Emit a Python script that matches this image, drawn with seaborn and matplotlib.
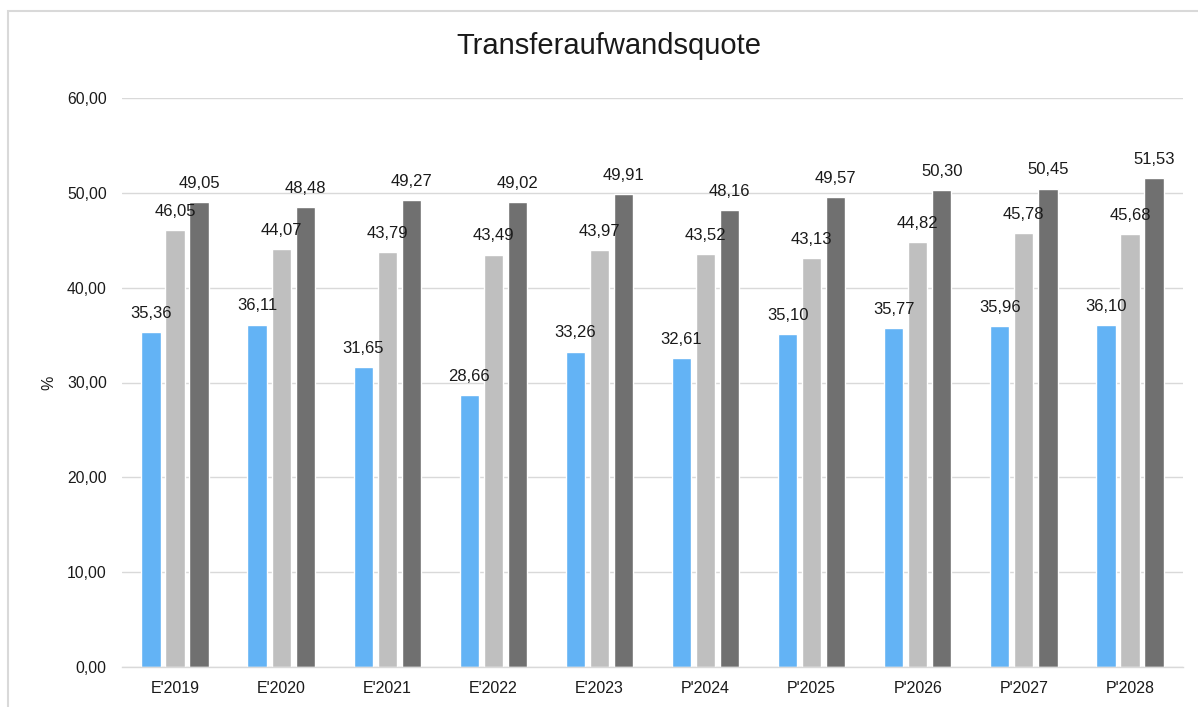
import pandas as pd
import matplotlib.pyplot as plt
import seaborn as sns
from matplotlib.patches import Rectangle
from matplotlib.ticker import FuncFormatter

# Daten
jahre = ["E'2019", "E'2020", "E'2021", "E'2022", "E'2023",
         "P'2024", "P'2025", "P'2026", "P'2027", "P'2028"]
reihe_1 = [35.36, 36.11, 31.65, 28.66, 33.26, 32.61, 35.10, 35.77, 35.96, 36.10]
reihe_2 = [46.05, 44.07, 43.79, 43.49, 43.97, 43.52, 43.13, 44.82, 45.78, 45.68]
reihe_3 = [49.05, 48.48, 49.27, 49.02, 49.91, 48.16, 49.57, 50.30, 50.45, 51.53]
reihen = ["Reihe 1", "Reihe 2", "Reihe 3"]
farben = ["#63B3F5", "#BFBFBF", "#707070"]

df = pd.DataFrame({
    "Jahr": jahre * 3,
    "Reihe": [r for r in reihen for _ in jahre],
    "Wert": reihe_1 + reihe_2 + reihe_3,
})

sns.set_theme(style="white")
plt.rcParams['font.family'] = ['Liberation Sans', 'DejaVu Sans']
plt.rcParams['text.color'] = '#1a1a1a'

fig = plt.figure(figsize=(11.98, 7.07), dpi=100)
ax = fig.add_axes([122 / 1198, 1 - 667 / 707, 1061 / 1198, 569 / 707])

sns.barplot(data=df, x="Jahr", y="Wert", hue="Reihe", palette=farben,
            saturation=1, width=0.68, gap=0.2, legend=False, ax=ax, zorder=2)

komma = lambda v: f"{v:.2f}".replace('.', ',')
for cont in ax.containers:
    ax.bar_label(cont, labels=[komma(b.get_height()) for b in cont],
                 padding=8, fontsize=12, color='#1a1a1a')

ax.set_ylim(0, 60)
ax.set_yticks(range(0, 61, 10))
ax.yaxis.set_major_formatter(FuncFormatter(lambda v, p: komma(v)))
ax.grid(axis='y', color='#D9D9D9', linewidth=1.0, zorder=0)
ax.set_axisbelow(True)
for s in ['top', 'right', 'left']:
    ax.spines[s].set_visible(False)
ax.spines['bottom'].set_color('#D9D9D9')
ax.spines['bottom'].set_linewidth(1.0)
ax.spines['bottom'].set_zorder(3)
ax.tick_params(axis='y', length=0, pad=11, labelsize=11.3, labelcolor='#1a1a1a')
ax.tick_params(axis='x', length=0, pad=10, labelsize=11.5, labelcolor='#1a1a1a')
ax.set_xlabel('')
ax.set_ylabel('%', fontsize=11.5, color='#1a1a1a')
ax.yaxis.set_label_coords(-0.062, 0.5)

fig.text(609 / 1198, 1 - 46 / 707, 'Transferaufwandsquote', fontsize=21,
         ha='center', va='center', color='#1a1a1a')

# Rahmen um das Diagramm
fig.patches.append(Rectangle((8 / 1198, -0.1), 1.2, 1 - 11 / 707 + 0.1,
                             transform=fig.transFigure, fill=False,
                             edgecolor='#D9D9D9', linewidth=1.5))

fig.savefig('out.png', dpi=100)
